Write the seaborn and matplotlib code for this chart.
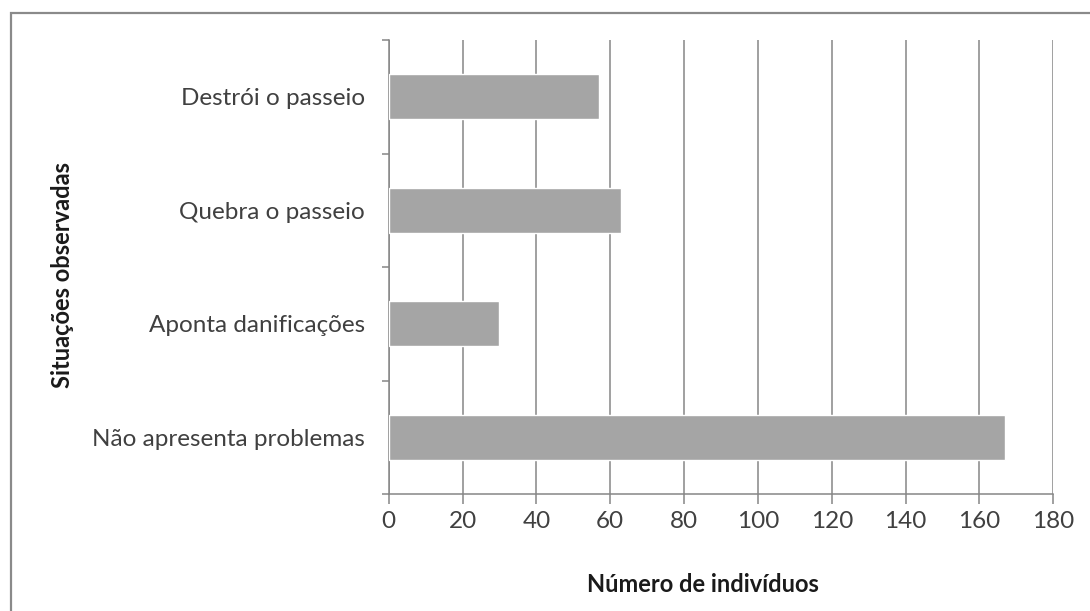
import matplotlib
matplotlib.use("Agg")
import matplotlib.pyplot as plt
import seaborn as sns
import pandas as pd
from matplotlib.patches import Rectangle
from matplotlib.ticker import FixedLocator

# Data
situacoes = ["Destrói o passeio", "Quebra o passeio", "Aponta danificações", "Não apresenta problemas"]
individuos = [57, 63, 30, 167]
x_ticks = [0, 20, 40, 60, 80, 100, 120, 140, 160, 180]

df = pd.DataFrame({"situacao": situacoes, "n": individuos})

sns.set_theme(style="white")
plt.rcParams["font.family"] = ["Lato", "DejaVu Sans"]

GRID = "#868686"
BAR = "#A5A5A5"

fig = plt.figure(figsize=(10.9, 6.11), dpi=100)
ax = fig.add_axes([388.7 / 1090, 1 - 494 / 611, 664.6 / 1090, 454 / 611])

sns.barplot(data=df, x="n", y="situacao", orient="h", color=BAR,
            saturation=1, width=0.4, ax=ax, zorder=3)

ax.set_xlim(0, 180)
ax.set_ylim(3.5, -0.5)
ax.set_xticks(x_ticks)
ax.xaxis.grid(True, color=GRID, linewidth=1.1, zorder=0)
ax.set_axisbelow(True)

for side in ["top", "right"]:
    ax.spines[side].set_visible(False)
for side in ["left", "bottom"]:
    ax.spines[side].set_color(GRID)
    ax.spines[side].set_linewidth(1.1)

ax.tick_params(axis="x", which="major", direction="out", length=7, width=1.1,
               color=GRID, bottom=True, labelsize=17.5, labelcolor="#404040", pad=5)
ax.tick_params(axis="y", which="major", length=0, labelsize=17.5,
               labelcolor="#404040", pad=17)
# category boundary ticks on the y axis
ax.yaxis.set_minor_locator(FixedLocator([-0.5, 0.5, 1.5, 2.5, 3.5]))
ax.tick_params(axis="y", which="minor", direction="out", length=5, width=1.1,
               color=GRID, left=True)

ax.set_xlabel("Número de indivíduos", fontsize=17, fontweight="bold", color="#1a1a1a")
ax.xaxis.set_label_coords((703 - 388.7) / 664.6, (494 - 585) / 454)
ax.xaxis.label.set_va("center")
ax.set_ylabel("Situações observadas", fontsize=17, fontweight="bold", color="#1a1a1a")
ax.yaxis.set_label_coords((63 - 388.7) / 664.6, (494 - 275) / 454)
ax.yaxis.label.set_va("center")

# outer chart frame (cropped at right and bottom)
fig.patches.append(Rectangle((11 / 1090, -0.05), 1.2, 1 - 13 / 611 + 0.05,
                             transform=fig.transFigure, fill=False,
                             edgecolor="#8a8a8a", linewidth=1.6))

fig.savefig("out.png", dpi=100)
